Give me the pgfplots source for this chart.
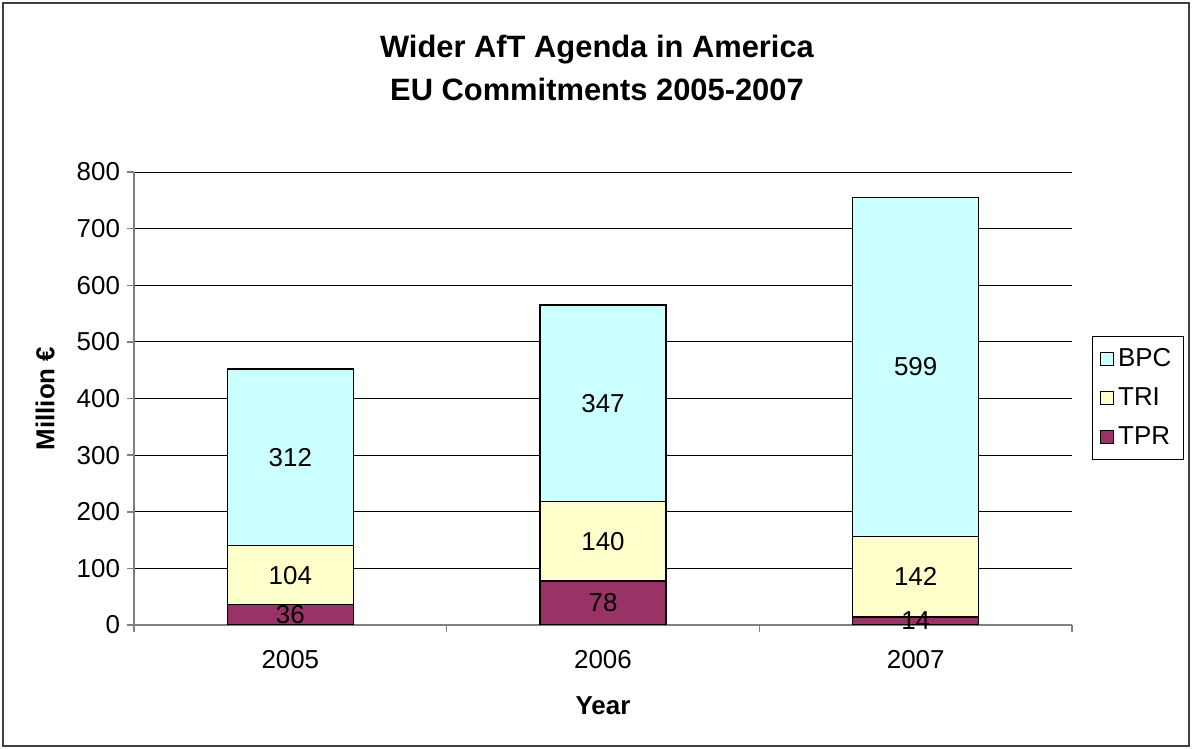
\documentclass[border=0pt]{standalone}
\usepackage{pgfplots}
\pgfplotsset{compat=1.18}
\usepackage{fontspec}
\setmainfont{Liberation Sans}
\definecolor{bpc}{HTML}{CCFFFF}
\definecolor{tri}{HTML}{FFFFCC}
\definecolor{tpr}{HTML}{993366}
\definecolor{axgray}{HTML}{808080}
\begin{document}
\begin{tikzpicture}
\useasboundingbox (0bp,0bp) rectangle (596bp,374.5bp);
\draw[color=black!75, line width=1bp] (1.5bp,1.5bp) rectangle (594.5bp,373bp);
\begin{axis}[
  at={(67bp,62bp)}, anchor=south west,
  scale only axis, width=469bp, height=226.5bp,
  ybar stacked, bar width=63bp,
  xmin=-0.5, xmax=2.5, ymin=0, ymax=800,
  ytick={0,100,...,800},
  xtick={-0.5,0.5,1.5,2.5}, xticklabels={},
  extra x ticks={0,1,2}, extra x tick labels={2005,2006,2007},
  extra x tick style={major tick length=0pt, grid=none},
  axis lines*=left,
  axis line style={color=axgray, line width=0.75bp},
  tick align=outside, major tick length=3.5bp,
  tick style={color=axgray, line width=0.75bp},
  ymajorgrids, grid style={black, line width=0.5bp},
  ticklabel style={font=\fontsize{13}{15}\selectfont},
  /pgf/number format/assume math mode=true,
  xticklabel style={yshift=-9bp},
  title={Wider AfT Agenda in America\\EU Commitments 2005-2007},
  title style={at={(rel axis cs:0.5,1)}, anchor=center, yshift=46bp, xshift=-3bp, align=center, font=\fontsize{15.5}{21.5}\selectfont\bfseries},
  xlabel={Year}, ylabel={Million €},
  every axis x label/.style={at={(rel axis cs:0.5,0)}, anchor=center, yshift=-40.5bp, font=\fontsize{13}{15}\selectfont\bfseries},
  every axis y label/.style={at={(rel axis cs:0,0.5)}, anchor=center, rotate=90, yshift=44.5bp, font=\fontsize{13}{15}\selectfont\bfseries},
  reverse legend,
  legend cell align=left,
  legend style={at={(rel axis cs:1.021,0.638)}, anchor=north west, draw=black, line width=0.5bp, font=\fontsize{13}{15}\selectfont, row sep=5bp, inner ysep=4bp, inner xsep=4bp},
  legend image code/.code={\draw[#1, draw=black, line width=0.5bp] (0bp,-3.25bp) rectangle (6.5bp,3.25bp);},
]
\addplot[fill=tpr, draw=black, line width=0.75bp] coordinates {(0,36) (1,78) (2,14)};
\addplot[fill=tri, draw=black, line width=0.75bp] coordinates {(0,104) (1,140) (2,142)};
\addplot[fill=bpc, draw=black, line width=0.75bp] coordinates {(0,312) (1,347) (2,599)};
\legend{TPR,TRI,BPC}
\end{axis}
\begin{axis}[
  at={(67bp,62bp)}, anchor=south west,
  scale only axis, width=469bp, height=226.5bp,
  xmin=-0.5, xmax=2.5, ymin=0, ymax=800,
  hide axis, clip=false,
]
\addplot[only marks, mark=none, nodes near coords, point meta=explicit symbolic,
  every node near coord/.style={anchor=center, font=\fontsize{13}{15}\selectfont}]
  table[meta=lab]{
x y lab
0 18 36
0 88 104
0 296 312
1 39 78
1 148 140
1 391.5 347
2 7 14
2 85 142
2 455.5 599
};
\end{axis}
\end{tikzpicture}
\end{document}
